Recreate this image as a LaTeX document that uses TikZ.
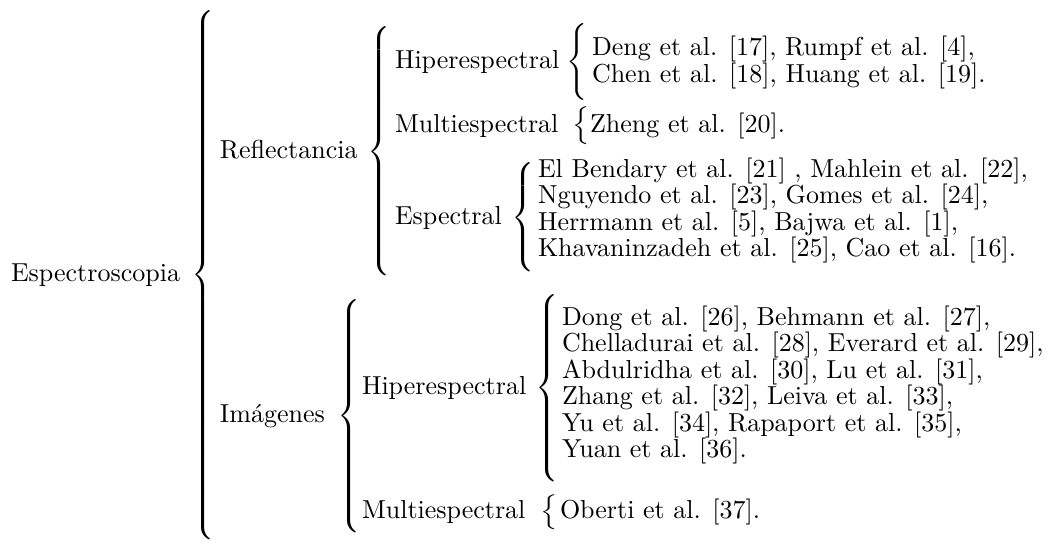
\documentclass[tikz,border=0pt]{standalone}
\begin{document}
% one unit = one pixel of the 1049 x 543 canvas, y grows downwards
\newcommand\delimbrace[1]{$\left\{\vcenter{\hrule height #1 width 0pt}\right.$}
% extensible brace stretched to an exact total height (in pixels of the canvas)
\newcommand\fitbrace[1]{\resizebox*{\width}{#1\dimexpr 0.3846pt\relax}{\delimbrace{#1\dimexpr 0.3846pt\relax}}}
\begin{tikzpicture}[x=0.3846pt,y=-0.3846pt,
  lbl/.style={anchor=base west,inner sep=0pt,outer sep=0pt},
  brc/.style={anchor=west,inner sep=0pt,outer sep=0pt}]
\useasboundingbox (0,0) rectangle (1049,543);

% level 0
\node[lbl] (esp) at (11,281.5) {Espectroscopia};
\node[brc] (bEsp) at (191,275) {\fitbrace{529}};

% level 1
\node[lbl] (refl) at (220,158) {Reflectancia};
\node[brc] (bRefl) at (367,151.5) {\fitbrace{259}};
\node[lbl] (img) at (220,422.5) {Im\'agenes};
\node[brc] (bImg) at (337,416) {\fitbrace{246}};

% level 2 under Reflectancia
\node[lbl] (rHip) at (395,68) {Hiperespectral};
\node[brc] (bRHip) at (566,61.5) {\fitbrace{77}};
\node[lbl] (rHip1) at (592,55) {Deng et al. [17], Rumpf et al. [4],};
\node[lbl] (rHip2) at (592,82.5) {Chen et al. [18], Huang et al. [19].};

\node[lbl] (rMul) at (395,132.5) {Multiespectral};
\node[brc] (bRMul) at (572,126) {\fitbrace{38}};
\node[lbl] (rMul1) at (590,132.5) {Zheng et al. [20].};

\node[lbl] (rEsp) at (395,224) {Espectral};
\node[brc] (bREsp) at (511,217.5) {\fitbrace{119}};
\node[lbl] (rEsp1) at (538,177) {El Bendary et al. [21] , Mahlein et al. [22],};
\node[lbl] (rEsp2) at (538,203.5) {Nguyendo et al. [23], Gomes et al. [24],};
\node[lbl] (rEsp3) at (538,230) {Herrmann et al. [5], Bajwa et al. [1],};
\node[lbl] (rEsp4) at (538,256.5) {Khavaninzadeh et al. [25], Cao et al. [16].};

% level 2 under Imagenes
\node[lbl] (iHip) at (362,394) {Hiperespectral};
\node[brc] (bIHip) at (535,388) {\fitbrace{192}};
\node[lbl] (iHip1) at (562,325) {Dong et al. [26], Behmann et al. [27],};
\node[lbl] (iHip2) at (562,351.5) {Chelladurai et al. [28], Everard et al. [29],};
\node[lbl] (iHip3) at (562,378) {Abdulridha et al. [30], Lu et al. [31],};
\node[lbl] (iHip4) at (562,404.5) {Zhang et al. [32], Leiva et al. [33],};
\node[lbl] (iHip5) at (562,431) {Yu et al. [34], Rapaport et al. [35],};
\node[lbl] (iHip6) at (562,457.5) {Yuan et al. [36].};

\node[lbl] (iMul) at (362,518) {Multiespectral};
\node[brc] (bIMul) at (540,512) {\fitbrace{35}};
\node[lbl] (iMul1) at (560,518) {Oberti et al. [37].};
\end{tikzpicture}
\end{document}
